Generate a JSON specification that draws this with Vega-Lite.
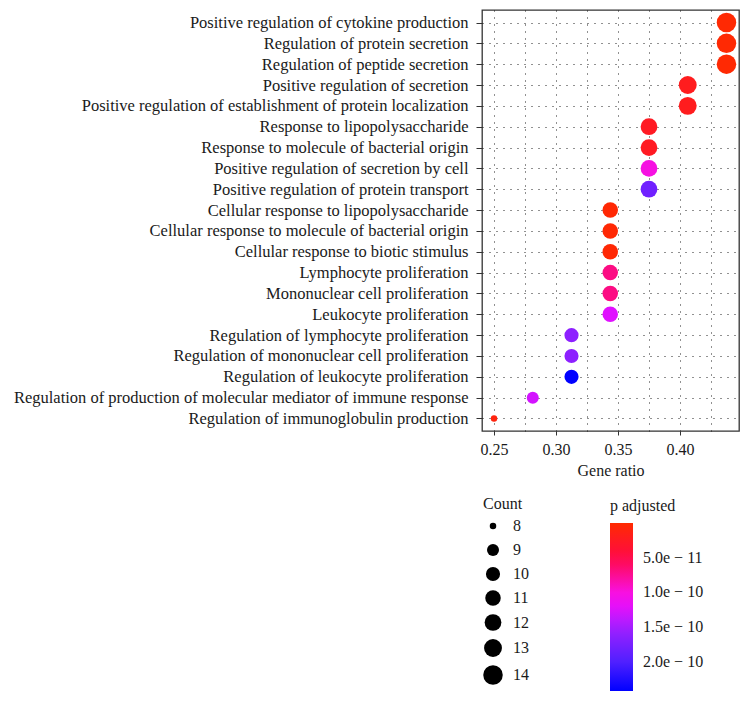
{
  "$schema": "https://vega.github.io/schema/vega-lite/v6.json",
  "width": 257,
  "height": 421,
  "autosize": {"type": "none"},
  "padding": {"left": 482, "top": 10, "right": 11, "bottom": 271},
  "background": "white",
  "config": {
    "font": "Liberation Serif",
    "view": {"stroke": "#333333", "strokeWidth": 1.3},
    "axis": {"labelFont": "Liberation Serif", "titleFont": "Liberation Serif", "labelColor": "#1a1a1a", "titleColor": "#1a1a1a", "domain": false, "titleFontWeight": "normal"},
    "legend": {"labelFont": "Liberation Serif", "titleFont": "Liberation Serif", "labelColor": "#1a1a1a", "titleColor": "#1a1a1a"}
  },
  "data": {
    "values": [
      {"term": "Positive regulation of cytokine production", "ratio": 0.4375, "count": 14, "padj": 2e-12},
      {"term": "Regulation of protein secretion", "ratio": 0.4375, "count": 14, "padj": 2e-12},
      {"term": "Regulation of peptide secretion", "ratio": 0.4375, "count": 14, "padj": 2e-12},
      {"term": "Positive regulation of secretion", "ratio": 0.40625, "count": 13, "padj": 2.2e-11},
      {"term": "Positive regulation of establishment of protein localization", "ratio": 0.40625, "count": 13, "padj": 2.2e-11},
      {"term": "Response to lipopolysaccharide", "ratio": 0.375, "count": 12, "padj": 2.5e-11},
      {"term": "Response to molecule of bacterial origin", "ratio": 0.375, "count": 12, "padj": 2.5e-11},
      {"term": "Positive regulation of secretion by cell", "ratio": 0.375, "count": 12, "padj": 1.02e-10},
      {"term": "Positive regulation of protein transport", "ratio": 0.375, "count": 12, "padj": 1.8e-10},
      {"term": "Cellular response to lipopolysaccharide", "ratio": 0.34375, "count": 11, "padj": 3e-12},
      {"term": "Cellular response to molecule of bacterial origin", "ratio": 0.34375, "count": 11, "padj": 3e-12},
      {"term": "Cellular response to biotic stimulus", "ratio": 0.34375, "count": 11, "padj": 3e-12},
      {"term": "Lymphocyte proliferation", "ratio": 0.34375, "count": 11, "padj": 7e-11},
      {"term": "Mononuclear cell proliferation", "ratio": 0.34375, "count": 11, "padj": 7e-11},
      {"term": "Leukocyte proliferation", "ratio": 0.34375, "count": 11, "padj": 1.25e-10},
      {"term": "Regulation of lymphocyte proliferation", "ratio": 0.3125, "count": 10, "padj": 1.62e-10},
      {"term": "Regulation of mononuclear cell proliferation", "ratio": 0.3125, "count": 10, "padj": 1.62e-10},
      {"term": "Regulation of leukocyte proliferation", "ratio": 0.3125, "count": 10, "padj": 2.42e-10},
      {"term": "Regulation of production of molecular mediator of immune response", "ratio": 0.28125, "count": 9, "padj": 1.3e-10},
      {"term": "Regulation of immunoglobulin production", "ratio": 0.25, "count": 8, "padj": 1e-11}
    ]
  },
  "mark": {"type": "point", "shape": "circle", "filled": true, "opacity": 1},
  "encoding": {
    "x": {
      "field": "ratio", "type": "quantitative",
      "scale": {"domain": [0.2403, 0.4476], "nice": false, "zero": false},
      "axis": {
        "title": "Gene ratio",
        "values": [0.25, 0.275, 0.3, 0.325, 0.35, 0.375, 0.4, 0.425],
        "labelExpr": "round(datum.value*1000) % 50 == 0 ? format(datum.value, '.2f') : ''",
        "labelFontSize": 16, "titleFontSize": 16, "labelPadding": 6, "titlePadding": 5,
        "tickSize": 4, "tickColor": "#333333",
        "tickOpacity": {"condition": {"test": "round(datum.value*1000) % 50 == 0", "value": 1}, "value": 0},
        "grid": true, "gridDash": [1, 6], "gridColor": "#222222", "gridWidth": 1
      }
    },
    "y": {
      "field": "term", "type": "nominal", "sort": null,
      "scale": {"type": "point", "padding": 0.6},
      "axis": {
        "title": null, "labelFontSize": 16.5, "labelPadding": 8, "tickSize": 6, "tickColor": "#333333",
        "grid": true, "gridDash": [1, 6], "gridColor": "#222222", "gridWidth": 1, "labelLimit": 600
      }
    },
    "size": {
      "field": "count", "type": "quantitative",
      "scale": {"domain": [8, 9, 10, 11, 12, 13, 14], "range": [42, 144, 200, 240, 280, 320, 380], "zero": false},
      "legend": {
        "title": "Count", "orient": "none", "legendX": 1, "legendY": 486,
        "values": [8, 9, 10, 11, 12, 13, 14],
        "titleFontSize": 16, "titleFontWeight": "normal", "labelFontSize": 16,
        "symbolFillColor": "black", "symbolStrokeWidth": 0, "symbolStrokeColor": "black",
        "rowPadding": 8, "labelOffset": 10, "titlePadding": 6
      }
    },
    "color": {
      "field": "padj", "type": "quantitative",
      "scale": {
        "domain": [2.42e-10, 2e-10, 1.5e-10, 1.25e-10, 1e-10, 5e-11, 0],
        "range": ["#0000ff", "#5020ff", "#a020ff", "#e010ff", "#f810e0", "#ff0a45", "#ff2a00"],
        "interpolate": "rgb"
      },
      "legend": {
        "title": "p adjusted", "orient": "none", "legendX": 128, "legendY": 488,
        "values": [5e-11, 1e-10, 1.5e-10, 2e-10],
        "labelExpr": "replace(format(datum.value, '.1e'), '-', ' − ')",
        "gradientLength": 168, "gradientThickness": 23, "gradientStrokeWidth": 0,
        "titleFontSize": 16, "titleFontWeight": "normal", "labelFontSize": 16,
        "labelOffset": 10, "titlePadding": 9
      }
    }
  }
}
